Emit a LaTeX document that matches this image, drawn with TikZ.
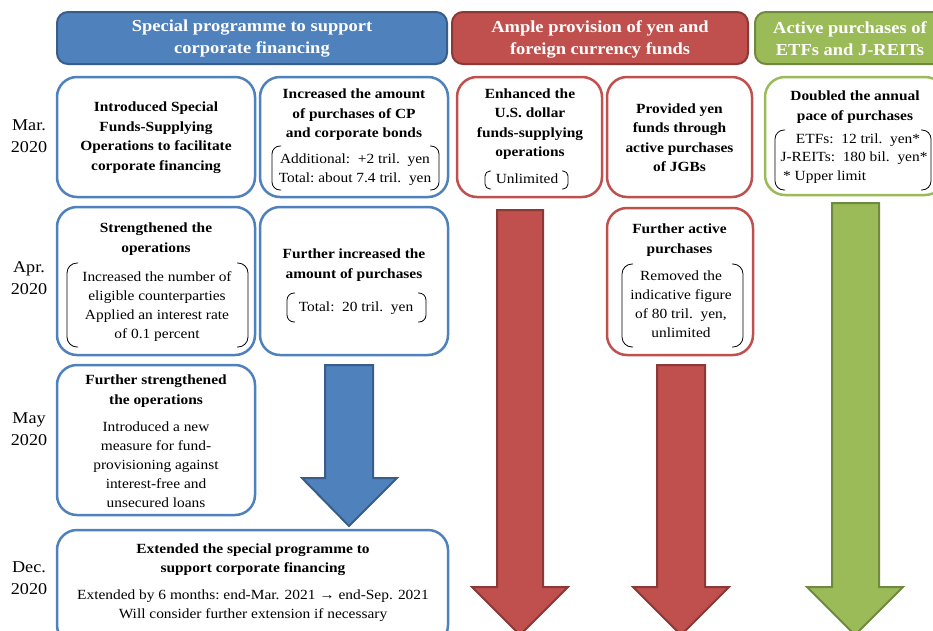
\documentclass[tikz,border=0pt]{standalone}
\usepackage{fontspec}
\setmainfont[FakeStretch=1.1]{Liberation Serif}
\usetikzlibrary{fit}
\definecolor{bl}{HTML}{4F81BD}
\definecolor{bld}{HTML}{385D8A}
\definecolor{rd}{HTML}{C0504D}
\definecolor{rdd}{HTML}{8C3836}
\definecolor{gr}{HTML}{9BBB59}
\definecolor{grd}{HTML}{71893F}
\newcommand\bpair[5]{%
  \draw[line width=0.8pt, rounded corners=#5] ({#1+#5+1},#2) -- (#1,#2) -- (#1,#4) -- ({#1+#5+1},#4);
  \draw[line width=0.8pt, rounded corners=#5] ({#3-#5-1},#2) -- (#3,#2) -- (#3,#4) -- ({#3-#5-1},#4);}
\begin{document}
\begin{tikzpicture}[x=1pt,y=-1pt,
  hbar/.style={line width=2pt, rounded corners=11pt, inner sep=0pt},
  mbox/.style={line width=2.5pt, rounded corners=20pt, inner sep=0pt, fill=white},
  arr/.style={line width=2pt, line join=miter},
  hd/.style={text=white, font=\fontsize{16.8}{22}\selectfont\bfseries, align=center, inner sep=0pt},
  bt/.style={font=\fontsize{14}{19.5}\selectfont\bfseries, align=center, inner sep=0pt},
  nt/.style={font=\fontsize{14}{19}\selectfont, align=center, inner sep=0pt},
  dt/.style={font=\fontsize{16.5}{22}\selectfont, align=center, inner sep=0pt}]
\useasboundingbox (0,0) rectangle (933,630);
\clip (0,0) rectangle (933,630);
\fill[white] (0,0) rectangle (933,630);

% headers
\node[hbar, fill=bl, draw=bld, fit={(57,12)(447,64)}] (h1) {};
\node[hbar, fill=rd, draw=rdd, fit={(452,12)(748,64)}] (h2) {};
\node[hbar, fill=gr, draw=grd, fit={(755,12)(948,64)}] (h3) {};
\node[hd] (h1t) at (252,39) {Special programme to support\\corporate financing};
\node[hd] (h2t) at (600,39) {Ample provision of yen and\\foreign currency funds};
\node[hd] (h3t) at (850,39) {Active purchases of\\ETFs and J-REITs};

% dates
\node[dt] (d1) at (29,136) {Mar.\\2020};
\node[dt] (d2) at (29,278) {Apr.\\2020};
\node[dt] (d3) at (29,429) {May\\2020};
\node[dt] (d4) at (29,578) {Dec.\\2020};

% arrows
\filldraw[arr, fill=bl, draw=bld] (325,365) -- (373,365) -- (373,478) -- (397,478) -- (349,526) -- (302,478) -- (325,478) -- cycle;
\filldraw[arr, fill=rd, draw=rdd] (497,210) -- (543,210) -- (543,587) -- (568,587) -- (520,635) -- (472,587) -- (497,587) -- cycle;
\filldraw[arr, fill=rd, draw=rdd] (657,365) -- (705,365) -- (705,587) -- (729,587) -- (681,635) -- (633,587) -- (657,587) -- cycle;
\filldraw[arr, fill=gr, draw=grd] (832,203) -- (879,203) -- (879,587) -- (903,587) -- (855,635) -- (807,587) -- (832,587) -- cycle;

% row 1
\node[mbox, draw=bl, fit={(57,77)(255,197)}] (b1) {};
\node[bt] (b1t) at (156,137.5) {Introduced Special\\Funds-Supplying\\Operations to facilitate\\corporate financing};
\node[mbox, draw=bl, fit={(260,77)(448,197)}] (b2) {};
\node[bt] (b2t) at (354,115) {Increased the amount\\of purchases of CP\\and corporate bonds};
\node[nt] (b2s) at (355,169.5) {Additional:\ \ +2 tril.\ \ yen\\Total:\ about\ 7.4 tril.\ \ yen};
\bpair{272}{146}{439}{190}{8}
\node[mbox, draw=rd, fit={(457,77)(602,197)}] (r1) {};
\node[bt] (r1t) at (530,124) {Enhanced the\\U.S. dollar\\funds-supplying\\operations};
\node[nt] (r1s) at (527,179) {Unlimited};
\bpair{485}{171}{568}{189}{5}
\node[mbox, draw=rd, fit={(607,77)(752,197)}] (r2) {};
\node[bt] (r2t) at (679.5,137.5) {Provided yen\\funds through\\active purchases\\of JGBs};
\node[mbox, draw=gr, fit={(765,77)(945,195)}] (g1) {};
\node[bt] (g1t) at (855,107) {Doubled the annual\\pace of purchases};
\node[nt] (g1a) at (858,140) {ETFs:\ \ 12 tril.\ \ yen*};
\node[nt] (g1b) at (854,158) {J-REITs:\ \ 180 bil.\ \ yen*};
\node[nt, anchor=west] (g1c) at (783,177) {* Upper limit};
\bpair{775}{130}{931}{190}{9}

% row 2
\node[mbox, draw=bl, fit={(57,207)(255,355)}] (b3) {};
\node[bt] (b3t) at (156,239) {Strengthened the\\operations};
\node[nt] (b3s) at (157,307) {Increased the number of\\eligible counterparties\\Applied an interest rate\\of 0.1 percent};
\bpair{67}{263}{248}{347}{10}
\node[mbox, draw=bl, fit={(260,207)(448,355)}] (b4) {};
\node[bt] (b4t) at (354,265) {Further increased the\\amount of purchases};
\node[nt] (b4s) at (356,308) {Total:\ \ 20 tril.\ \ yen};
\bpair{287}{293}{426}{322}{7}
\node[mbox, draw=rd, fit={(607,208)(753,355)}] (r3) {};
\node[bt] (r3t) at (679.5,240) {Further active\\purchases};
\node[nt] (r3s) at (681,304.5) {Removed the\\indicative figure\\of 80 tril.\ \ yen,\\unlimited};
\bpair{622}{264}{743}{347}{10}

% row 3
\node[mbox, draw=bl, fit={(57,365)(255,515)}] (b5) {};
\node[bt] (b5t) at (156,391) {Further strengthened\\the operations};
\node[nt] (b5s) at (156,465) {Introduced a new\\measure for fund-\\provisioning against\\interest-free and\\unsecured loans};

% row 4
\node[mbox, draw=bl, fit={(57,530)(448,645)}] (b6) {};
\node[bt] (b6t) at (253,559.5) {Extended the special programme to\\support corporate financing};
\node[nt] (b6s) at (253,606) {Extended by 6 months:\ end-Mar. 2021 → end-Sep. 2021\\Will consider further extension if necessary};
\end{tikzpicture}
\end{document}
